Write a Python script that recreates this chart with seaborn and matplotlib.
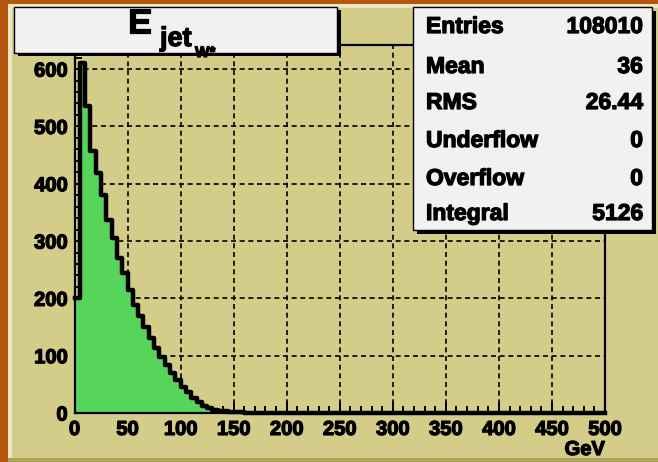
import numpy as np
import pandas as pd
import matplotlib
matplotlib.use("Agg")
import matplotlib.pyplot as plt
import matplotlib.patheffects as pe
from matplotlib.patches import Rectangle
from matplotlib.ticker import MultipleLocator
import seaborn as sns

# histogram contents, 5 GeV bins starting at 0 (all later bins are empty)
bin_width = 5
x_max = 500
bin_counts = [200, 611, 535, 457, 418, 380, 337, 305, 270, 244,
              215, 189, 170, 150, 131, 114, 98, 84, 70, 57,
              46, 36, 27, 19, 13, 9, 6, 4, 3, 2, 1, 1]

# stats box
stat_labels = ["Entries", "Mean", "RMS", "Underflow", "Overflow", "Integral"]
stat_values = ["108010", "36", "26.44", "0", "0", "5126"]

edges = np.arange(0, x_max + bin_width, bin_width)
centers = edges[:-1] + bin_width / 2
counts = np.zeros(len(centers))
counts[:len(bin_counts)] = bin_counts
df = pd.DataFrame({"E": centers, "n": counts})

plt.rcParams['font.family'] = ['Liberation Sans', 'DejaVu Sans']
plt.rcParams['font.weight'] = 'bold'

W, H = 658, 462
def fx(px):
    return px / W
def fy(py):
    return 1 - py / H

khaki = "#d4cd89"
green = "#57d55a"
boxfill = "#f1f1f1"
heavy = [pe.withStroke(linewidth=0.9, foreground="black")]

fig = plt.figure(figsize=(6.58, 4.62), dpi=100, facecolor="#b4560c")

# canvas with ROOT-like bevel border
fig.add_artist(Rectangle((fx(8), 0), 1 - fx(8), fy(4), transform=fig.transFigure,
                         facecolor="#ebe7c4", edgecolor="none", zorder=-10))
fig.add_artist(Rectangle((fx(12), 0), 1 - fx(12), fy(8), transform=fig.transFigure,
                         facecolor=khaki, edgecolor="none", zorder=-9))
fig.add_artist(Rectangle((fx(8), 0), 1 - fx(8), 4 / H, transform=fig.transFigure,
                         facecolor="#aaa255", edgecolor="none", zorder=-9))

ax = fig.add_axes([fx(74.5), fy(413), fx(605) - fx(74.5), fy(45) - fy(413)])
ax.set_facecolor(khaki)

sns.histplot(data=df, x="E", weights="n", binwidth=bin_width, binrange=(0, x_max),
             element="step", fill=True, color=green, alpha=1, linewidth=0, ax=ax)
sns.histplot(data=df, x="E", weights="n", binwidth=bin_width, binrange=(0, x_max),
             element="step", fill=False, color="black", linewidth=3.2, ax=ax)
ax.lines[-1].set_clip_on(False)

ax.set_xlim(0, x_max)
ax.set_ylim(0, 642)
ax.set_xlabel("")
ax.set_ylabel("")

ax.xaxis.set_major_locator(MultipleLocator(50))
ax.xaxis.set_minor_locator(MultipleLocator(10))
ax.yaxis.set_major_locator(MultipleLocator(100))
ax.yaxis.set_minor_locator(MultipleLocator(20))
ax.tick_params(which="both", direction="in", top=False, right=False, width=1.4,
               labelsize=14.5)
ax.tick_params(which="major", length=8, pad=5)
ax.tick_params(which="minor", length=5)
for lab in ax.get_xticklabels() + ax.get_yticklabels():
    lab.set_fontweight("bold")
    lab.set_path_effects(heavy)

ax.set_axisbelow(True)
ax.grid(True, which="major", color="black", linestyle=(0, (3, 2.2)), linewidth=1.2)
for sp in ax.spines.values():
    sp.set_linewidth(1.6)
    sp.set_color("black")

fig.text(fx(605), fy(455), "GeV", ha="right", va="baseline", fontsize=14.5,
         fontweight="bold", path_effects=heavy)

# title box
fig.add_artist(Rectangle((fx(18), fy(56)), fx(337) - fx(14), fy(7) - fy(53),
                         transform=fig.transFigure, facecolor="black",
                         edgecolor="none", zorder=2))
fig.add_artist(Rectangle((fx(14), fy(53)), fx(337) - fx(14), fy(7) - fy(53),
                         transform=fig.transFigure, facecolor=boxfill,
                         edgecolor="black", linewidth=1, zorder=2.1))
fig.text(fx(128), fy(33), "E", fontsize=25.5, fontweight="bold", va="baseline",
         zorder=5, path_effects=heavy)
fig.text(fx(160), fy(46), "jet", fontsize=19.5, fontweight="bold", va="baseline",
         zorder=5, path_effects=heavy)
fig.text(fx(195), fy(57), "W*", fontsize=11, fontweight="bold", va="baseline",
         zorder=5, path_effects=heavy)

# stats box
fig.add_artist(Rectangle((fx(417), fy(234)), fx(652) - fx(413), fy(7) - fy(230),
                         transform=fig.transFigure, facecolor="black",
                         edgecolor="none", zorder=2))
fig.add_artist(Rectangle((fx(413), fy(230)), fx(652) - fx(413), fy(7) - fy(230),
                         transform=fig.transFigure, facecolor=boxfill,
                         edgecolor="black", linewidth=1, zorder=2.1))
baselines = [33, 73, 109, 147, 185, 220]
for lab, val, b in zip(stat_labels, stat_values, baselines):
    fig.text(fx(426), fy(b), lab, fontsize=16.5, fontweight="bold", va="baseline",
             ha="left", zorder=5, path_effects=heavy)
    fig.text(fx(643), fy(b), val, fontsize=16.5, fontweight="bold", va="baseline",
             ha="right", zorder=5, path_effects=heavy)

fig.savefig("out.png", dpi=100, facecolor=fig.get_facecolor())
